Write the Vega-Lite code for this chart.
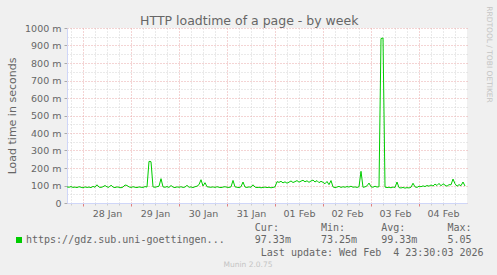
{
 "$schema": "https://vega.github.io/schema/vega-lite/v6.json",
 "width": 400,
 "height": 175,
 "autosize": {"type": "none"},
 "padding": {"left": 67, "top": 28, "right": 30, "bottom": 72},
 "background": "#f0f0f0",
 "title": {"text": "HTTP loadtime of a page - by week", "font": "DejaVu Sans", "fontSize": 12.5, "fontWeight": "normal", "color": "#666666", "anchor": "middle", "frame": "bounds", "offset": -22},
 "config": {"view": {"fill": "white", "stroke": null}, "font": "DejaVu Sans"},
 "data": {"values": [
  {"t":"2026-01-27T16:00","v":92},{"t":"2026-01-27T17:00","v":90},{"t":"2026-01-27T18:00","v":94},{"t":"2026-01-27T19:00","v":89},{"t":"2026-01-27T20:00","v":91},{"t":"2026-01-27T21:00","v":88},{"t":"2026-01-27T22:00","v":93},{"t":"2026-01-27T23:00","v":90},
  {"t":"2026-01-28T00:00","v":87},{"t":"2026-01-28T01:00","v":92},{"t":"2026-01-28T02:00","v":89},{"t":"2026-01-28T03:00","v":91},{"t":"2026-01-28T04:00","v":88},{"t":"2026-01-28T05:00","v":95},{"t":"2026-01-28T06:00","v":90},{"t":"2026-01-28T07:00","v":104},{"t":"2026-01-28T08:00","v":91},{"t":"2026-01-28T09:00","v":89},{"t":"2026-01-28T10:00","v":93},{"t":"2026-01-28T11:00","v":100},{"t":"2026-01-28T12:00","v":92},{"t":"2026-01-28T13:00","v":90},{"t":"2026-01-28T14:00","v":102},{"t":"2026-01-28T15:00","v":91},{"t":"2026-01-28T16:00","v":88},{"t":"2026-01-28T17:00","v":92},{"t":"2026-01-28T18:00","v":90},{"t":"2026-01-28T19:00","v":87},{"t":"2026-01-28T20:00","v":91},{"t":"2026-01-28T21:00","v":103},{"t":"2026-01-28T22:00","v":100},{"t":"2026-01-28T23:00","v":92},
  {"t":"2026-01-29T00:00","v":89},{"t":"2026-01-29T01:00","v":93},{"t":"2026-01-29T02:00","v":90},{"t":"2026-01-29T03:00","v":88},{"t":"2026-01-29T04:00","v":92},{"t":"2026-01-29T05:00","v":90},{"t":"2026-01-29T06:00","v":89},{"t":"2026-01-29T07:00","v":94},{"t":"2026-01-29T08:00","v":91},{"t":"2026-01-29T09:00","v":238},{"t":"2026-01-29T10:00","v":236},{"t":"2026-01-29T11:00","v":92},{"t":"2026-01-29T12:00","v":90},{"t":"2026-01-29T13:00","v":93},{"t":"2026-01-29T14:00","v":96},{"t":"2026-01-29T15:00","v":139},{"t":"2026-01-29T16:00","v":92},{"t":"2026-01-29T17:00","v":90},{"t":"2026-01-29T18:00","v":94},{"t":"2026-01-29T19:00","v":89},{"t":"2026-01-29T20:00","v":100},{"t":"2026-01-29T21:00","v":91},{"t":"2026-01-29T22:00","v":88},{"t":"2026-01-29T23:00","v":92},
  {"t":"2026-01-30T00:00","v":90},{"t":"2026-01-30T01:00","v":93},{"t":"2026-01-30T02:00","v":89},{"t":"2026-01-30T03:00","v":91},{"t":"2026-01-30T04:00","v":101},{"t":"2026-01-30T05:00","v":90},{"t":"2026-01-30T06:00","v":92},{"t":"2026-01-30T07:00","v":88},{"t":"2026-01-30T08:00","v":93},{"t":"2026-01-30T09:00","v":96},{"t":"2026-01-30T10:00","v":105},{"t":"2026-01-30T11:00","v":133},{"t":"2026-01-30T12:00","v":97},{"t":"2026-01-30T13:00","v":116},{"t":"2026-01-30T14:00","v":93},{"t":"2026-01-30T15:00","v":91},{"t":"2026-01-30T16:00","v":90},{"t":"2026-01-30T17:00","v":92},{"t":"2026-01-30T18:00","v":89},{"t":"2026-01-30T19:00","v":93},{"t":"2026-01-30T20:00","v":90},{"t":"2026-01-30T21:00","v":88},{"t":"2026-01-30T22:00","v":91},{"t":"2026-01-30T23:00","v":93},
  {"t":"2026-01-31T00:00","v":90},{"t":"2026-01-31T01:00","v":89},{"t":"2026-01-31T02:00","v":92},{"t":"2026-01-31T03:00","v":129},{"t":"2026-01-31T04:00","v":92},{"t":"2026-01-31T05:00","v":90},{"t":"2026-01-31T06:00","v":88},{"t":"2026-01-31T07:00","v":93},{"t":"2026-01-31T08:00","v":120},{"t":"2026-01-31T09:00","v":91},{"t":"2026-01-31T10:00","v":89},{"t":"2026-01-31T11:00","v":92},{"t":"2026-01-31T12:00","v":90},{"t":"2026-01-31T13:00","v":104},{"t":"2026-01-31T14:00","v":91},{"t":"2026-01-31T15:00","v":88},{"t":"2026-01-31T16:00","v":90},{"t":"2026-01-31T17:00","v":87},{"t":"2026-01-31T18:00","v":89},{"t":"2026-01-31T19:00","v":91},{"t":"2026-01-31T20:00","v":88},{"t":"2026-01-31T21:00","v":90},{"t":"2026-01-31T22:00","v":87},{"t":"2026-01-31T23:00","v":89},
  {"t":"2026-02-01T00:00","v":92},{"t":"2026-02-01T01:00","v":122},{"t":"2026-02-01T02:00","v":118},{"t":"2026-02-01T03:00","v":124},{"t":"2026-02-01T04:00","v":115},{"t":"2026-02-01T05:00","v":121},{"t":"2026-02-01T06:00","v":113},{"t":"2026-02-01T07:00","v":119},{"t":"2026-02-01T08:00","v":126},{"t":"2026-02-01T09:00","v":117},{"t":"2026-02-01T10:00","v":122},{"t":"2026-02-01T11:00","v":128},{"t":"2026-02-01T12:00","v":119},{"t":"2026-02-01T13:00","v":125},{"t":"2026-02-01T14:00","v":130},{"t":"2026-02-01T15:00","v":121},{"t":"2026-02-01T16:00","v":127},{"t":"2026-02-01T17:00","v":118},{"t":"2026-02-01T18:00","v":126},{"t":"2026-02-01T19:00","v":131},{"t":"2026-02-01T20:00","v":120},{"t":"2026-02-01T21:00","v":128},{"t":"2026-02-01T22:00","v":116},{"t":"2026-02-01T23:00","v":124},
  {"t":"2026-02-02T00:00","v":118},{"t":"2026-02-02T01:00","v":110},{"t":"2026-02-02T02:00","v":123},{"t":"2026-02-02T03:00","v":105},{"t":"2026-02-02T04:00","v":128},{"t":"2026-02-02T05:00","v":92},{"t":"2026-02-02T06:00","v":88},{"t":"2026-02-02T07:00","v":91},{"t":"2026-02-02T08:00","v":95},{"t":"2026-02-02T09:00","v":89},{"t":"2026-02-02T10:00","v":93},{"t":"2026-02-02T11:00","v":90},{"t":"2026-02-02T12:00","v":94},{"t":"2026-02-02T13:00","v":91},{"t":"2026-02-02T14:00","v":96},{"t":"2026-02-02T15:00","v":90},{"t":"2026-02-02T16:00","v":92},{"t":"2026-02-02T17:00","v":89},{"t":"2026-02-02T18:00","v":93},{"t":"2026-02-02T19:00","v":181},{"t":"2026-02-02T20:00","v":90},{"t":"2026-02-02T21:00","v":92},{"t":"2026-02-02T22:00","v":98},{"t":"2026-02-02T23:00","v":114},
  {"t":"2026-02-03T00:00","v":93},{"t":"2026-02-03T01:00","v":90},{"t":"2026-02-03T02:00","v":96},{"t":"2026-02-03T03:00","v":91},{"t":"2026-02-03T04:00","v":93},{"t":"2026-02-03T05:00","v":940},{"t":"2026-02-03T06:00","v":943},{"t":"2026-02-03T07:00","v":91},{"t":"2026-02-03T08:00","v":88},{"t":"2026-02-03T09:00","v":90},{"t":"2026-02-03T10:00","v":87},{"t":"2026-02-03T11:00","v":91},{"t":"2026-02-03T12:00","v":89},{"t":"2026-02-03T13:00","v":120},{"t":"2026-02-03T14:00","v":88},{"t":"2026-02-03T15:00","v":86},{"t":"2026-02-03T16:00","v":89},{"t":"2026-02-03T17:00","v":85},{"t":"2026-02-03T18:00","v":88},{"t":"2026-02-03T19:00","v":86},{"t":"2026-02-03T20:00","v":90},{"t":"2026-02-03T21:00","v":113},{"t":"2026-02-03T22:00","v":92},{"t":"2026-02-03T23:00","v":89},
  {"t":"2026-02-04T00:00","v":96},{"t":"2026-02-04T01:00","v":93},{"t":"2026-02-04T02:00","v":98},{"t":"2026-02-04T03:00","v":94},{"t":"2026-02-04T04:00","v":100},{"t":"2026-02-04T05:00","v":96},{"t":"2026-02-04T06:00","v":103},{"t":"2026-02-04T07:00","v":97},{"t":"2026-02-04T08:00","v":108},{"t":"2026-02-04T09:00","v":100},{"t":"2026-02-04T10:00","v":112},{"t":"2026-02-04T11:00","v":98},{"t":"2026-02-04T12:00","v":110},{"t":"2026-02-04T13:00","v":102},{"t":"2026-02-04T14:00","v":96},{"t":"2026-02-04T15:00","v":105},{"t":"2026-02-04T16:00","v":104},{"t":"2026-02-04T17:00","v":137},{"t":"2026-02-04T18:00","v":110},{"t":"2026-02-04T19:00","v":96},{"t":"2026-02-04T20:00","v":105},{"t":"2026-02-04T21:00","v":99},{"t":"2026-02-04T22:00","v":120},{"t":"2026-02-04T23:00","v":97}
 ]},
 "layer": [
  {
   "mark": {"type": "line", "strokeOpacity": 0},
   "encoding": {
    "x": {"field": "t", "type": "temporal",
     "scale": {"domain": ["2026-01-27T16:00", "2026-02-05T00:00"]},
     "axis": {
      "orient": "bottom",
      "values": ["2026-01-27T18:00", "2026-01-28T06:00", "2026-01-28T12:00", "2026-01-28T18:00", "2026-01-29T06:00", "2026-01-29T12:00", "2026-01-29T18:00", "2026-01-30T06:00", "2026-01-30T12:00", "2026-01-30T18:00", "2026-01-31T06:00", "2026-01-31T12:00", "2026-01-31T18:00", "2026-02-01T06:00", "2026-02-01T12:00", "2026-02-01T18:00", "2026-02-02T06:00", "2026-02-02T12:00", "2026-02-02T18:00", "2026-02-03T06:00", "2026-02-03T12:00", "2026-02-03T18:00", "2026-02-04T06:00", "2026-02-04T12:00", "2026-02-04T18:00"],
      "labels": false, "domain": false, "ticks": true, "tickColor": "#cccccc", "tickSize": 2,
      "grid": true, "gridDash": [1, 2], "gridColor": "#d4d4d4", "title": null
     }},
    "y": {"field": "v", "type": "quantitative",
     "scale": {"domain": [0, 1000], "nice": false},
     "axis": {
      "orient": "right",
      "values": [50, 150, 250, 350, 450, 550, 650, 750, 850, 950],
      "labels": false, "domain": false, "ticks": false,
      "grid": true, "gridDash": [1, 2], "gridColor": "#d4d4d4",
      "title": "RRDTOOL / TOBI OETIKER", "titleAngle": 90, "titleFont": "DejaVu Sans", "titleFontSize": 7.5, "titleFontWeight": "normal", "titleColor": "#c4c4c4",
      "titleX": 21, "titleY": 26, "titleAlign": "center", "titleBaseline": "middle"
     }}
   }
  },
  {
   "mark": {"type": "line", "strokeWidth": 1},
   "encoding": {
    "x": {"field": "t", "type": "temporal",
     "scale": {"domain": ["2026-01-27T16:00", "2026-02-05T00:00"]},
     "axis": {
      "orient": "bottom",
      "values": ["2026-01-28T00:00", "2026-01-29T00:00", "2026-01-30T00:00", "2026-01-31T00:00", "2026-02-01T00:00", "2026-02-02T00:00", "2026-02-03T00:00", "2026-02-04T00:00"],
      "format": "%d %b",
      "labelOffset": 24, "labelOverlap": false, "labelFlush": false,
      "labelFont": "DejaVu Sans", "labelFontSize": 9.5, "labelColor": "#666666", "labelPadding": 2,
      "grid": true, "gridDash": [1, 2], "gridColor": "#e8a8a8", "tickColor": "#e08080",
      "tickSize": 3, "domainColor": "#cfd6f8",
      "title": "Munin 2.0.75", "titleFont": "DejaVu Sans", "titleFontSize": 7.5, "titleFontWeight": "normal", "titleColor": "#c4c4c4",
      "titleX": 180.5, "titleY": 61, "titleAlign": "center", "titleBaseline": "middle"
     }},
    "y": {"field": "v", "type": "quantitative",
     "scale": {"domain": [0, 1000], "nice": false},
     "axis": {
      "orient": "left",
      "values": [0, 100, 200, 300, 400, 500, 600, 700, 800, 900, 1000],
      "labelExpr": "datum.value == 0 ? '0' : datum.value + ' m'",
      "labelFont": "DejaVu Sans", "labelFontSize": 9.5, "labelColor": "#666666", "labelPadding": 3,
      "grid": true, "gridDash": [1, 2], "gridColor": "#e8a8a8", "tickColor": "#aaaaaa",
      "tickSize": 3, "domainColor": "#cfd6f8",
      "title": "Load time in seconds", "titleFont": "DejaVu Sans", "titleFontSize": 11, "titleFontWeight": "normal", "titleColor": "#666666", "titlePadding": 7
     }},
    "color": {"datum": "https://gdz.sub.uni-goettingen...\u00a0\u00a0\u00a0\u00a0\u00a097.33m\u00a0\u00a0\u00a0\u00a0\u00a073.25m\u00a0\u00a0\u00a0\u00a099.33m\u00a0\u00a0\u00a0\u00a0\u00a05.05", "type": "nominal",
     "scale": {"domain": ["https://gdz.sub.uni-goettingen...\u00a0\u00a0\u00a0\u00a0\u00a097.33m\u00a0\u00a0\u00a0\u00a0\u00a073.25m\u00a0\u00a0\u00a0\u00a099.33m\u00a0\u00a0\u00a0\u00a0\u00a05.05", "\u200b\u00a0\u00a0\u00a0\u00a0\u00a0\u00a0\u00a0\u00a0\u00a0\u00a0\u00a0\u00a0\u00a0\u00a0\u00a0\u00a0\u00a0\u00a0\u00a0\u00a0\u00a0\u00a0\u00a0\u00a0\u00a0\u00a0\u00a0\u00a0\u00a0\u00a0\u00a0\u00a0\u00a0\u00a0\u00a0\u00a0\u00a0\u00a0\u00a0Last update: Wed Feb\u00a0\u00a04 23:30:03 2026"], "range": ["#00cc00", "#f0f0f0"]},
     "legend": {
      "orient": "none", "legendX": -53, "legendY": 195, "direction": "vertical", "padding": 0,
      "title": "\u200b\u00a0\u00a0\u00a0\u00a0\u00a0\u00a0\u00a0\u00a0\u00a0\u00a0\u00a0\u00a0\u00a0\u00a0\u00a0\u00a0\u00a0\u00a0\u00a0\u00a0\u00a0\u00a0\u00a0\u00a0\u00a0\u00a0\u00a0\u00a0\u00a0\u00a0\u00a0\u00a0\u00a0\u00a0\u00a0\u00a0\u00a0\u00a0\u00a0\u00a0Cur:\u00a0\u00a0\u00a0\u00a0\u00a0\u00a0\u00a0Min:\u00a0\u00a0\u00a0\u00a0\u00a0\u00a0Avg:\u00a0\u00a0\u00a0\u00a0\u00a0\u00a0\u00a0Max:",
      "titleFont": "DejaVu Sans Mono", "titleFontSize": 10, "titleFontWeight": "normal", "titleColor": "#666666", "titleLimit": 600, "titlePadding": 2,
      "labelFont": "DejaVu Sans Mono", "labelFontSize": 10, "labelColor": "#666666", "labelLimit": 600, "labelOffset": 2,
      "symbolType": "square", "symbolSize": 9, "symbolStrokeWidth": 3, "rowPadding": -4
     }}
   }
  }
 ],
 "resolve": {"axis": {"x": "independent", "y": "independent"}}
}
